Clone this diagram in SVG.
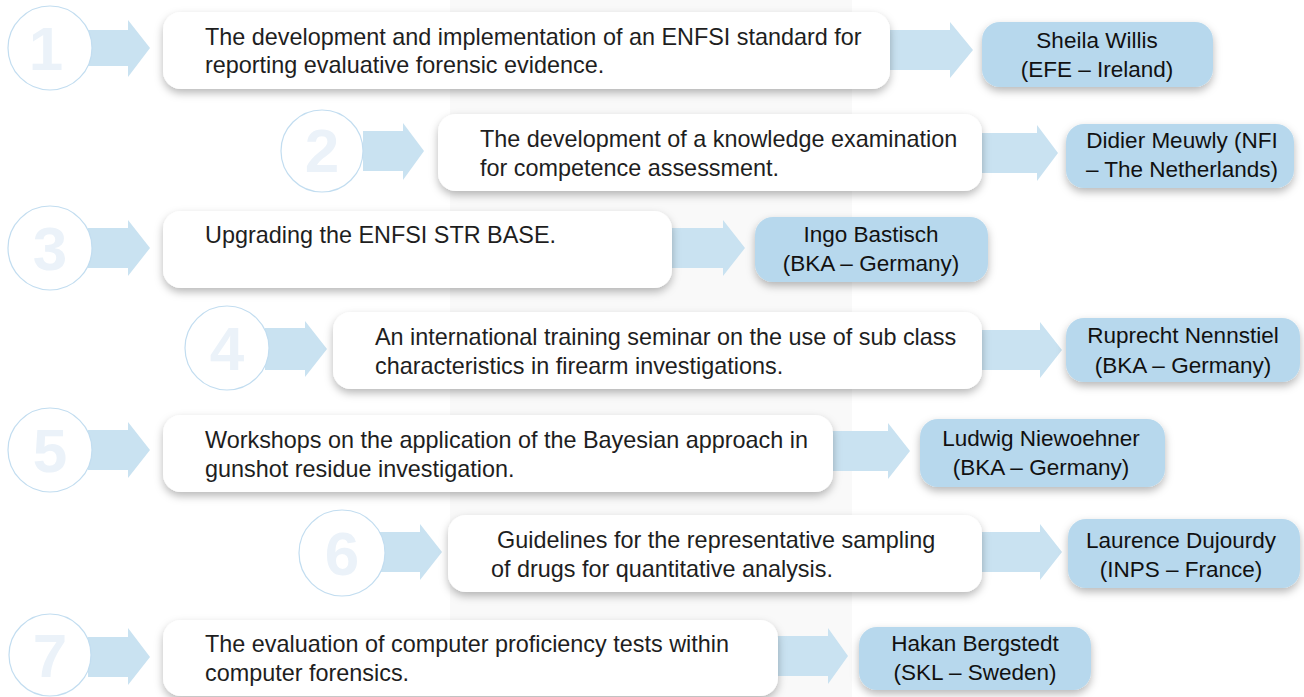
<svg xmlns="http://www.w3.org/2000/svg" width="1304" height="697" viewBox="0 0 1304 697">
<defs>
<filter id="sh" x="-10%" y="-20%" width="120%" height="150%">
<feDropShadow dx="0" dy="4" stdDeviation="4" flood-color="#000" flood-opacity="0.28"/>
</filter>
<style>
.band{fill:#f9f9f9}
.circ{fill:#fff;stroke:#c2ddf0;stroke-width:1.2}
.num{font-family:"Liberation Sans",Arial,sans-serif;font-weight:bold;font-size:62px;fill:#ebf2f9;text-anchor:middle}
.arr{fill:#c9e2f1}
.box{fill:#fff;filter:url(#sh)}
.pbox{fill:#b7d8ed;filter:url(#sh)}
.t{font-family:"Liberation Sans",Arial,sans-serif;font-size:23.4px;fill:#1e1e1e}
.pt{font-family:"Liberation Sans",Arial,sans-serif;font-size:22.5px;fill:#111;text-anchor:middle}
</style>
</defs>
<rect class="band" x="450" y="0" width="402" height="697"/>

<g id="connectors">
<path class="arr" d="M88,30 H128 V20 L150,48 L128,77 V66 H88 Z"/>
<path class="arr" d="M363,131 H403 V123 L424,151 L403,180 V171 H363 Z"/>
<path class="arr" d="M88,228 H128 V220 L150,248 L128,276 V268 H88 Z"/>
<path class="arr" d="M265,328 H305 V321 L327,349 L305,377 V370 H265 Z"/>
<path class="arr" d="M88,430 H128 V422 L150,450 L128,478 V470 H88 Z"/>
<path class="arr" d="M378,532 H420 V524 L442,552 L420,580 V572 H378 Z"/>
<path class="arr" d="M88,637 H128 V628 L150,657 L128,685 V677 H88 Z"/>
<path class="arr" d="M888,30 H950 V22 L973,50 L950,78 V70 H888 Z"/>
<path class="arr" d="M980,133 H1037 V125 L1058,153 L1037,181 V173 H980 Z"/>
<path class="arr" d="M670,228 H723 V220 L745,248 L723,276 V268 H670 Z"/>
<path class="arr" d="M980,330 H1040 V322 L1062,350 L1040,378 V370 H980 Z"/>
<path class="arr" d="M831,431 H888 V423 L910,451 L888,479 V471 H831 Z"/>
<path class="arr" d="M980,532 H1040 V524 L1062,552 L1040,580 V572 H980 Z"/>
<path class="arr" d="M776,636 H828 V628 L848,656 L828,684 V676 H776 Z"/>
</g>

<g id="n1"><circle class="circ" cx="50" cy="48" r="42"/><text class="num" x="46" y="70">1</text></g>
<g id="n2"><circle class="circ" cx="322" cy="151" r="41"/><text class="num" x="322" y="172">2</text></g>
<g id="n3"><circle class="circ" cx="50" cy="248" r="42"/><text class="num" x="50" y="270">3</text></g>
<g id="n4"><circle class="circ" cx="227" cy="348" r="42"/><text class="num" x="227" y="370">4</text></g>
<g id="n5"><circle class="circ" cx="50" cy="450" r="42"/><text class="num" x="50" y="472">5</text></g>
<g id="n6"><circle class="circ" cx="342" cy="553" r="43"/><text class="num" x="342" y="575">6</text></g>
<g id="n7"><circle class="circ" cx="50" cy="655" r="41"/><text class="num" x="50" y="677">7</text></g>

<g id="task1"><rect class="box" x="163" y="12" width="727" height="77" rx="18"/>
<text class="t" x="205" y="45">The development and implementation of an ENFSI standard for</text>
<text class="t" x="205" y="73">reporting evaluative forensic evidence.</text></g>
<g id="task2"><rect class="box" x="438" y="114" width="544" height="77" rx="18"/>
<text class="t" x="480" y="147">The development of a knowledge examination</text>
<text class="t" x="480" y="176">for competence assessment.</text></g>
<g id="task3"><rect class="box" x="163" y="211" width="509" height="77" rx="18"/>
<text class="t" x="205" y="243">Upgrading the ENFSI STR BASE.</text></g>
<g id="task4"><rect class="box" x="333" y="312" width="649" height="77" rx="18"/>
<text class="t" x="375" y="345">An international training seminar on the use of sub class</text>
<text class="t" x="375" y="374">characteristics in firearm investigations.</text></g>
<g id="task5"><rect class="box" x="163" y="415" width="670" height="77" rx="18"/>
<text class="t" x="205" y="448">Workshops on the application of the Bayesian approach in</text>
<text class="t" x="205" y="477">gunshot residue investigation.</text></g>
<g id="task6"><rect class="box" x="448" y="515" width="534" height="77" rx="18"/>
<text class="t" x="497" y="548">Guidelines for the representative sampling</text>
<text class="t" x="491" y="577">of drugs for quantitative analysis.</text></g>
<g id="task7"><rect class="box" x="163" y="620" width="615" height="76" rx="18"/>
<text class="t" x="205" y="652">The evaluation of computer proficiency tests within</text>
<text class="t" x="205" y="681">computer forensics.</text></g>

<g id="p1"><rect class="pbox" x="982" y="22" width="231" height="65" rx="18"/>
<text class="pt" x="1097" y="48">Sheila Willis</text><text class="pt" x="1097" y="77">(EFE – Ireland)</text></g>
<g id="p2"><rect class="pbox" x="1066" y="124" width="228" height="64" rx="18"/>
<text class="pt" x="1182" y="148">Didier Meuwly (NFI</text><text class="pt" x="1182" y="177">– The Netherlands)</text></g>
<g id="p3"><rect class="pbox" x="755" y="217" width="233" height="65" rx="18"/>
<text class="pt" x="871" y="242">Ingo Bastisch</text><text class="pt" x="871" y="271">(BKA – Germany)</text></g>
<g id="p4"><rect class="pbox" x="1066" y="318" width="234" height="64" rx="18"/>
<text class="pt" x="1183" y="343">Ruprecht Nennstiel</text><text class="pt" x="1183" y="373">(BKA – Germany)</text></g>
<g id="p5"><rect class="pbox" x="920" y="419" width="245" height="68" rx="18"/>
<text class="pt" x="1041" y="446">Ludwig Niewoehner</text><text class="pt" x="1041" y="475">(BKA – Germany)</text></g>
<g id="p6"><rect class="pbox" x="1068" y="519" width="232" height="69" rx="18"/>
<text class="pt" x="1181" y="548">Laurence Dujourdy</text><text class="pt" x="1181" y="577">(INPS – France)</text></g>
<g id="p7"><rect class="pbox" x="859" y="627" width="232" height="63" rx="18"/>
<text class="pt" x="975" y="651">Hakan Bergstedt</text><text class="pt" x="975" y="680">(SKL – Sweden)</text></g>
</svg>
